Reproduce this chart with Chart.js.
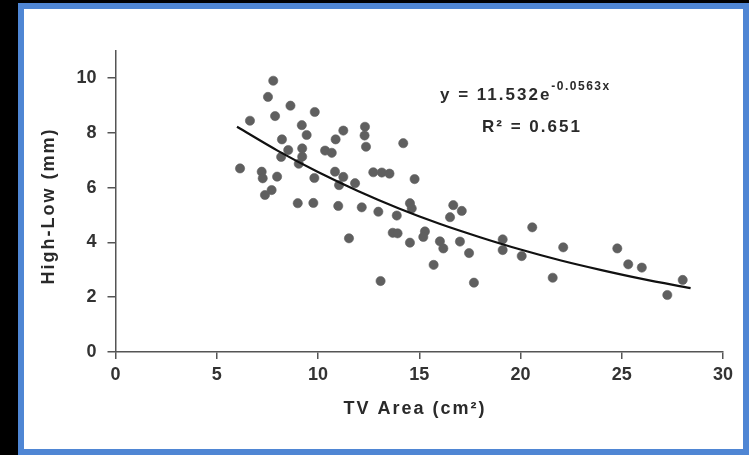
<!DOCTYPE html>
<html>
<head>
<meta charset="utf-8">
<script src="https://cdn.jsdelivr.net/npm/chart.js@4"></script>
<style>
  html, body { margin: 0; padding: 0; background: #000; width: 749px; height: 455px; overflow: hidden; }
  #frame { position: absolute; left: 18px; top: 3px; width: 719px; height: 440px; border: 6px solid #4f86d4; background: #fff; }
  #myChart { display: block; }
</style>
</head>
<body>
<div id="frame"><canvas id="myChart" width="719" height="440"></canvas></div>
<script>
// TV area (cm2) vs high-low (mm)
var areaX = [6.15, 6.64, 7.79, 7.53, 7.88, 8.64, 9.84, 9.20, 9.44, 11.25,
  10.87, 8.22, 8.53, 9.22, 9.22, 8.18, 10.35, 10.68, 9.05, 7.22,
  7.27, 7.98, 9.82, 10.84, 11.04, 11.25, 7.71, 7.38, 9.00, 9.77,
  11.00, 11.53, 12.32, 12.30, 12.37, 14.21, 12.73, 13.15, 13.53, 11.83,
  14.77, 12.16, 12.98, 13.89, 14.54, 14.63, 16.68, 17.10, 16.52, 13.69,
  13.93, 14.54, 15.28, 15.20, 16.02, 16.19, 17.01, 17.46, 15.71, 13.09,
  17.70, 19.12, 19.12, 20.06, 20.58, 21.59, 22.11, 24.78, 25.32, 25.99,
  28.01, 27.25];
var highLow = [6.70, 8.44, 9.90, 9.31, 8.61, 8.99, 8.76, 8.28, 7.92, 8.08,
  7.76, 7.76, 7.37, 7.43, 7.13, 7.12, 7.35, 7.27, 6.87, 6.58,
  6.34, 6.40, 6.35, 6.58, 6.09, 6.39, 5.91, 5.73, 5.43, 5.44,
  5.33, 4.15, 8.22, 7.90, 7.49, 7.62, 6.56, 6.55, 6.51, 6.16,
  6.31, 5.28, 5.12, 4.98, 5.43, 5.24, 5.36, 5.15, 4.92, 4.35,
  4.33, 3.99, 4.40, 4.20, 4.04, 3.78, 4.03, 3.61, 3.18, 2.59,
  2.53, 4.11, 3.72, 3.50, 4.55, 2.71, 3.82, 3.78, 3.20, 3.08,
  2.63, 2.08];

// trend curve
var trendX = [6.0, 8, 10, 12, 14, 16, 18, 20, 22, 24, 26, 28.4];
var trendY = [8.22, 7.35, 6.57, 5.87, 5.24, 4.68, 4.19, 3.74, 3.34, 2.99, 2.67, 2.33];

var yTicks = [0, 2, 4, 6, 8, 10];
var xTicks = [0, 5, 10, 15, 20, 25, 30];

var fontFam = '"Liberation Sans", Arial, sans-serif';

var points = areaX.map(function (x, i) { return { x: x, y: highLow[i] }; });
var trend = trendX.map(function (x, i) { return { x: x, y: trendY[i] }; });

var textPlugin = {
  id: 'textPlugin',
  afterDraw: function (chart) {
    var ctx = chart.ctx;
    ctx.save();
    ctx.fillStyle = '#2a2a2a';
    ctx.letterSpacing = '2px';
    ctx.textBaseline = 'alphabetic';
    ctx.textAlign = 'left';

    // equation
    ctx.font = 'bold 17px ' + fontFam;
    var eq = 'y = 11.532e';
    ctx.fillText(eq, 416, 91);
    var w = ctx.measureText(eq).width;
    ctx.font = 'bold 12px ' + fontFam;
    ctx.letterSpacing = '1.5px';
    ctx.fillText('-0.0563x', 416 + w, 81);
    ctx.letterSpacing = '2px';
    ctx.font = 'bold 17px ' + fontFam;
    ctx.fillText('R\u00b2 = 0.651', 458, 123);

    // axis titles
    ctx.font = 'bold 18px ' + fontFam;
    ctx.textAlign = 'center';
    ctx.textBaseline = 'middle';
    ctx.fillText('TV Area (cm\u00b2)', 391, 400);
    ctx.translate(25, 197);
    ctx.rotate(-Math.PI / 2);
    ctx.fillText('High-Low (mm)', 0, 0);
    ctx.restore();
  }
};

var ctx = document.getElementById('myChart').getContext('2d');
var myChart = new Chart(ctx, {
  type: 'scatter',
  data: {
    datasets: [
      {
        type: 'line',
        label: 'trend',
        data: trend,
        borderColor: '#111',
        borderWidth: 2.2,
        pointRadius: 0,
        fill: false,
        cubicInterpolationMode: 'monotone',
        order: 0
      },
      {
        label: 'High-Low',
        data: points,
        backgroundColor: '#5f5f5f',
        borderColor: 'rgba(95,95,95,0.6)',
        borderWidth: 1,
        pointRadius: 4.6,
        order: 1
      }
    ]
  },
  options: {
    responsive: false,
    animation: false,
    devicePixelRatio: 1,
    layout: { padding: { left: 0, right: 20, top: 41.6, bottom: 0 } },
    plugins: { legend: { display: false }, tooltip: { enabled: false } },
    scales: {
      x: {
        type: 'linear',
        min: 0,
        max: 30,
        afterFit: function (s) { s.height = 97; },
        afterBuildTicks: function (s) { s.ticks = xTicks.map(function (v) { return { value: v }; }); },
        grid: { drawOnChartArea: false, drawTicks: true, tickLength: 7, color: '#555', lineWidth: 1.5 },
        border: { display: true, color: '#555', width: 1.5 },
        ticks: { color: '#333', padding: 5, font: { family: fontFam, size: 18, weight: 'bold' } }
      },
      y: {
        type: 'linear',
        min: 0,
        max: 11,
        afterFit: function (s) { s.width = 91.5; },
        afterBuildTicks: function (s) { s.ticks = yTicks.map(function (v) { return { value: v }; }); },
        grid: { drawOnChartArea: false, drawTicks: true, tickLength: 8, color: '#555', lineWidth: 1.5 },
        border: { display: true, color: '#555', width: 1.5 },
        ticks: { color: '#333', padding: 11, font: { family: fontFam, size: 18, weight: 'bold' } }
      }
    }
  },
  plugins: [textPlugin]
});
</script>
</body>
</html>
